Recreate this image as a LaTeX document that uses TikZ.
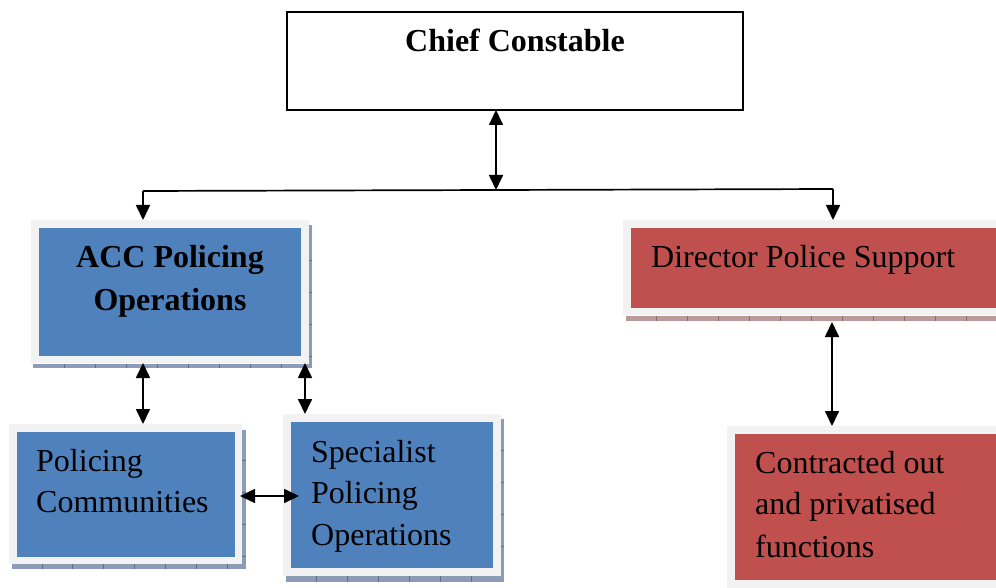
\documentclass[tikz,border=0pt]{standalone}
\usepackage{fontspec}
\setmainfont{Liberation Serif}
\usetikzlibrary{arrows.meta,calc}
\definecolor{boxblue}{HTML}{4F81BD}
\definecolor{boxred}{HTML}{C0504D}
\definecolor{frametint}{HTML}{F2F2F2}
\definecolor{shblue}{HTML}{8C9CB6}
\definecolor{shred}{HTML}{BC9A9A}
\definecolor{tickblue}{HTML}{5E6F8C}
\definecolor{tickred}{HTML}{8E6666}
\begin{document}
\begin{tikzpicture}[x=1pt,y=-1pt,
  rect/.style={anchor=north west,inner sep=0pt,outer sep=0pt},
  framebox/.style={rect,fill=frametint},
  bluebox/.style={rect,fill=boxblue},
  redbox/.style={rect,fill=boxred},
  label/.style={inner sep=0pt,font=\fontsize{32}{42}\selectfont,align=left},
  boldlabel/.style={inner sep=0pt,font=\fontsize{32}{42}\selectfont\bfseries,anchor=base},
  conn/.style={line width=1.7pt,-{Triangle[length=15pt,width=14pt]}},
  dbl/.style={line width=1.7pt,{Triangle[length=15pt,width=14pt]}-{Triangle[length=15pt,width=14pt]}},
  shb/.style={fill=shblue},
  shr/.style={fill=shred}]
\useasboundingbox (0,0) rectangle (996,588);
\fill[white] (0,0) rectangle (996,588);

% Chief Constable
\node[rect,draw=black,line width=1.7pt,fill=white,minimum width=456pt,minimum height=98pt] (chief) at (287,12) {};
\node[boldlabel] (chieft) at (515,52) {Chief Constable};

% ACC Policing Operations
\fill[shb] (309,225) rectangle (312,368);
\fill[shb] (33,364) rectangle (312,368);
\foreach \t in {64,95,126,157,188,219,250,281} \draw[tickblue,line width=0.6pt] (\t,364) -- (\t,368);
\foreach \t in {260,292,324,356} \draw[tickblue,line width=0.6pt] (309,\t) -- (312,\t);
\node[framebox,minimum width=278pt,minimum height=143pt] (accf) at (31,220) {};
\node[bluebox,minimum width=262pt,minimum height=128pt] (acc) at (39,228) {};
\node[boldlabel] (acct1) at (170,267) {ACC Policing};
\node[boldlabel] (acct2) at (170,310) {Operations};

% Policing Communities
\fill[shb] (242,430) rectangle (246,569);
\fill[shb] (12,564) rectangle (246,569);
\foreach \t in {42,72,103,134,165,196,227} \draw[tickblue,line width=0.6pt] (\t,564) -- (\t,569);
\foreach \t in {460,492,524,556} \draw[tickblue,line width=0.6pt] (242,\t) -- (246,\t);
\node[framebox,minimum width=233pt,minimum height=140pt] (polf) at (9,424) {};
\node[bluebox,minimum width=218pt,minimum height=125pt] (pol) at (17,432) {};
\node[label,anchor=base west] (polt1) at (36,471) {Policing};
\node[label,anchor=base west] (polt2) at (36,512) {Communities};

% Specialist Policing Operations
\fill[shb] (501,419) rectangle (504,582);
\fill[shb] (286,576) rectangle (504,582);
\foreach \t in {316,347,378,409,440,471} \draw[tickblue,line width=0.6pt] (\t,576) -- (\t,582);
\foreach \t in {450,482,514,546} \draw[tickblue,line width=0.6pt] (501,\t) -- (504,\t);
\node[framebox,minimum width=218pt,minimum height=162pt] (specf) at (283,414) {};
\node[bluebox,minimum width=202pt,minimum height=146pt] (spec) at (291,422) {};
\node[label,anchor=base west] (spect1) at (311,462) {Specialist};
\node[label,anchor=base west] (spect2) at (311,503) {Policing};
\node[label,anchor=base west] (spect3) at (311,545) {Operations};

% Director Police Support
\fill[shr] (626,316) rectangle (1000,321);
\foreach \t in {656,687,718,749,780,811,842,873,904,935,966} \draw[tickred,line width=0.6pt] (\t,316) -- (\t,321);
\node[framebox,minimum width=380pt,minimum height=95pt] (dirf) at (623,220) {};
\node[redbox,minimum width=370pt,minimum height=80pt] (dir) at (631,228) {};
\node[label,anchor=base west] (dirt) at (651,267) {Director Police Support};

% Contracted out and privatised functions
\node[framebox,minimum width=280pt,minimum height=170pt] (conf) at (727,426) {};
\node[redbox,minimum width=270pt,minimum height=146pt] (con) at (735,434) {};
\node[label,anchor=base west] (cont1) at (755,473) {Contracted out};
\node[label,anchor=base west] (cont2) at (755,514) {and privatised};
\node[label,anchor=base west] (cont3) at (755,557) {functions};

% connectors
\coordinate (busm) at (496,190);
\coordinate (busl) at (143,191);
\coordinate (busr) at (833,189);
\draw[line width=1.7pt] (busl) -- (busm) -- (busr);
\draw[dbl] (busm |- chief.south) -- (busm);
\draw[conn] (busl) -- (busl |- accf.north);
\draw[conn] (busr) -- (busr |- dirf.north);

\coordinate (va) at (143,0);
\coordinate (vb) at (305,0);
\coordinate (vc) at (832,0);
\coordinate (hy) at (0,496);
\draw[dbl] (va |- accf.south) -- (va |- polf.north);
\draw[dbl] (vb |- accf.south) -- (vb |- specf.north);
\draw[dbl,shorten <=-2pt,shorten >=-8pt] (polf.east |- hy) -- (spec.west |- hy);
\draw[dbl,shorten <=7pt] (vc |- dirf.south) -- (vc |- conf.north);
\end{tikzpicture}
\end{document}
